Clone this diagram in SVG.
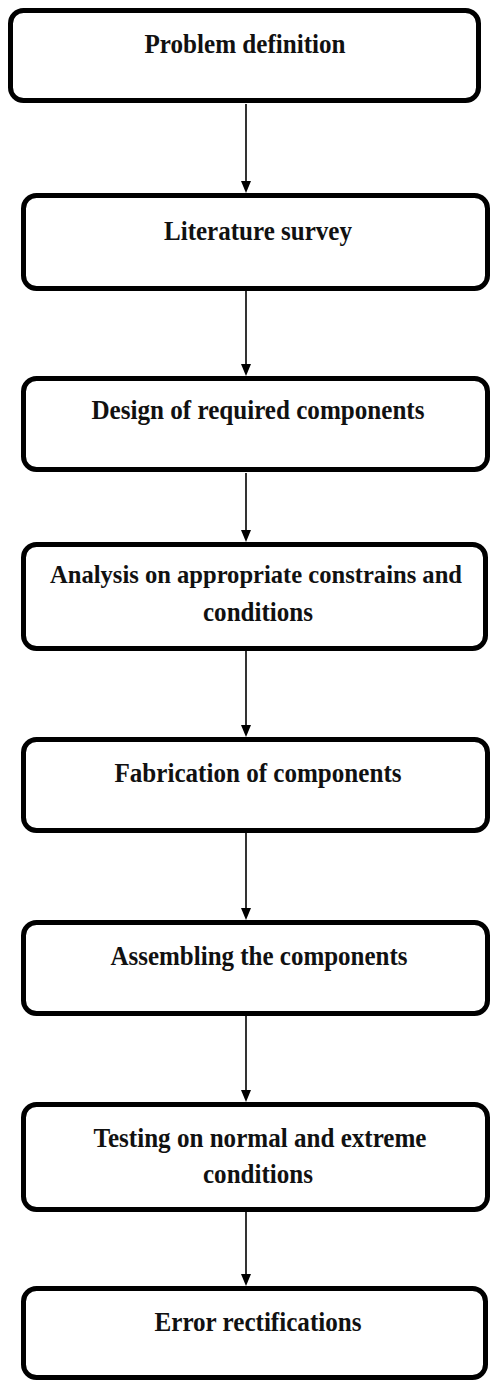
<svg xmlns="http://www.w3.org/2000/svg" width="493" height="1382" viewBox="0 0 493 1382">
<style>
.box{fill:#fff;stroke:#000;stroke-width:5}
.t{font-family:"Liberation Serif","Times New Roman",serif;font-weight:bold;font-size:28px;fill:#111;text-anchor:middle}
.s{font-size:25.5px}
.c{stroke:#000;stroke-width:1.6;fill:none}
</style>
<rect width="493" height="1382" fill="#fff"/>
<g id="connectors">
<line class="c" x1="246" y1="104" x2="246" y2="181"/><path d="M241,181 L251,181 L246,193 Z"/>
<line class="c" x1="246" y1="291" x2="246" y2="364"/><path d="M241,364 L251,364 L246,376 Z"/>
<line class="c" x1="246" y1="473" x2="246" y2="530"/><path d="M241,530 L251,530 L246,542 Z"/>
<line class="c" x1="246" y1="651" x2="246" y2="725"/><path d="M241,725 L251,725 L246,737 Z"/>
<line class="c" x1="246" y1="833" x2="246" y2="908"/><path d="M241,908 L251,908 L246,920 Z"/>
<line class="c" x1="246" y1="1016" x2="246" y2="1090"/><path d="M241,1090 L251,1090 L246,1102 Z"/>
<line class="c" x1="246" y1="1212" x2="246" y2="1274"/><path d="M241,1274 L251,1274 L246,1286 Z"/>
</g>
<g id="n1">
<rect class="box" x="10.5" y="10.5" width="468" height="90" rx="13"/>
<text class="t" x="245" y="53" textLength="201" lengthAdjust="spacingAndGlyphs">Problem definition</text>
</g>
<g id="n2">
<rect class="box" x="23.5" y="195.5" width="464" height="93" rx="13"/>
<text class="t" x="258" y="240" textLength="188" lengthAdjust="spacingAndGlyphs">Literature survey</text>
</g>
<g id="n3">
<rect class="box" x="23.5" y="378.5" width="464" height="91" rx="13"/>
<text class="t" x="258" y="419" textLength="333" lengthAdjust="spacingAndGlyphs">Design of required components</text>
</g>
<g id="n4">
<rect class="box" x="23.5" y="544.5" width="462" height="104" rx="13"/>
<text class="t s" x="256" y="583" textLength="412" lengthAdjust="spacingAndGlyphs">Analysis on appropriate constrains and</text>
<text class="t" x="258" y="621" textLength="110" lengthAdjust="spacingAndGlyphs">conditions</text>
</g>
<g id="n5">
<rect class="box" x="23.5" y="739.5" width="464" height="91" rx="13"/>
<text class="t" x="258" y="782" textLength="287" lengthAdjust="spacingAndGlyphs">Fabrication of components</text>
</g>
<g id="n6">
<rect class="box" x="23.5" y="922.5" width="464" height="91" rx="13"/>
<text class="t" x="259" y="965" textLength="297" lengthAdjust="spacingAndGlyphs">Assembling the components</text>
</g>
<g id="n7">
<rect class="box" x="23.5" y="1104.5" width="464" height="105" rx="13"/>
<text class="t" x="260" y="1147" textLength="333" lengthAdjust="spacingAndGlyphs">Testing on normal and extreme</text>
<text class="t" x="258" y="1183" textLength="110" lengthAdjust="spacingAndGlyphs">conditions</text>
</g>
<g id="n8">
<rect class="box" x="23.5" y="1288.5" width="462" height="89" rx="13"/>
<text class="t" x="258" y="1331" textLength="207" lengthAdjust="spacingAndGlyphs">Error rectifications</text>
</g>
</svg>
